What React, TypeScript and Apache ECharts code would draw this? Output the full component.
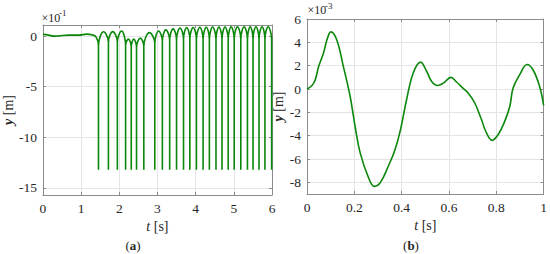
import React, { useEffect, useRef } from "react";
import * as echarts from "echarts";

// ---------- data (left: y in units of 1e-1 m, right: y in units of 1e-3 m) ----------
const leftYTicks = [-15, -10, -5, 0];
const rightYTicks = [-8, -6, -4, -2, 0, 2, 4, 6];

const earlyT = [0, 0.15, 0.28, 0.42, 0.68, 0.94, 1.15, 1.28, 1.39];
const earlyY = [0.17, 0.1, 0.0, 0.03, 0.1, 0.1, 0.2, 0.13, -0.07];

const spikeT = [
  1.456, 1.716, 1.95, 2.166, 2.314, 2.452, 2.643, 2.93, 3.129, 3.32, 3.5, 3.683, 3.848,
  4.021, 4.195, 4.36, 4.533, 4.69, 4.853, 5.01, 5.183, 5.357, 5.503, 5.66, 5.815, 5.99,
];
const shoulderY = [
  -0.9, -0.6, -0.6, -0.9, -1.1, -1.1, -1.0, -0.7, -0.5, -0.4, -0.35, -0.3, -0.3,
  -0.3, -0.3, -0.3, -0.3, -0.3, -0.3, -0.3, -0.3, -0.3, -0.3, -0.3, -0.3, -0.3,
];
const peakT = [
  1.59, 1.83, 2.06, 2.24, 2.38, 2.55, 2.79, 3.03, 3.22, 3.41, 3.59, 3.765, 3.935,
  4.11, 4.28, 4.445, 4.61, 4.77, 4.93, 5.095, 5.27, 5.43, 5.58, 5.74, 5.9,
];
const peakY = [
  0.43, 0.45, 0.5, -0.3, -0.3, -0.2, 0.35, 0.5, 0.62, 0.72, 0.8, 0.85, 0.85,
  0.88, 0.88, 0.9, 0.9, 0.9, 0.92, 0.92, 0.92, 0.93, 0.93, 0.93, 0.93,
];
const FLOOR_Y = -13.2;

const rightT = [
  0, 0.021, 0.035, 0.049, 0.07, 0.084, 0.101, 0.126, 0.154, 0.182, 0.204, 0.225, 0.26,
  0.284, 0.309, 0.344, 0.372, 0.395, 0.421, 0.449, 0.48, 0.506, 0.527, 0.552, 0.576,
  0.608, 0.632, 0.66, 0.681, 0.709, 0.737, 0.755, 0.782, 0.808, 0.835, 0.857, 0.871,
  0.899, 0.93, 0.955, 0.983, 1.0,
];
const rightY = [
  0, 0.3, 0.8, 1.9, 3.1, 4.2, 4.9, 4.2, 1.9, -0.6, -3.3, -5.5, -7.6,
  -8.35, -8.05, -6.6, -5.2, -3.5, -0.9, 1.37, 2.3, 1.5, 0.65, 0.3, 0.5,
  1.0, 0.6, 0.05, -0.34, -1.2, -2.6, -3.6, -4.4, -3.9, -2.8, -1.5, 0.08,
  1.23, 2.1, 1.65, 0.22, -1.4,
];

// ---------- styles ----------
const FONT = "Liberation Serif";
const FS = 13.5;
const GREEN = "#0b870b";
const AXIS_COLOR = "#8c8c8c";
const GRID_COLOR = "#e4e4e4";
const TEXT_COLOR = "#262626";

function buildLeftData(): number[][] {
  const d: number[][] = earlyT.map((t, i) => [t, earlyY[i]]);
  spikeT.forEach((t, i) => {
    d.push([t, shoulderY[i]], [t, FLOOR_Y]);
    if (i < peakT.length) {
      d.push([t, shoulderY[i]], [peakT[i], peakY[i]]);
    }
  });
  return d;
}

const labelStyle = { color: TEXT_COLOR, fontFamily: FONT, fontSize: FS, margin: 6 };
const tickStyle = { show: true, inside: true, length: 3, lineStyle: { color: AXIS_COLOR } };

const baseAxis = (extra: any) => ({
  type: "value",
  axisLine: { show: true, onZero: false, lineStyle: { color: AXIS_COLOR, width: 1 } },
  axisTick: tickStyle,
  splitLine: { show: true, lineStyle: { color: GRID_COLOR, width: 1 } },
  axisLabel: labelStyle,
  ...extra,
});

const nameStyle = {
  color: TEXT_COLOR,
  fontFamily: FONT,
  fontSize: 14,
  rich: {
    i: { fontStyle: "italic", fontFamily: FONT, fontSize: 14, color: TEXT_COLOR },
    b: { fontStyle: "italic", fontWeight: "bold", fontFamily: FONT, fontSize: 14, color: TEXT_COLOR },
    n: { fontFamily: FONT, fontSize: 14, color: TEXT_COLOR },
  },
};

export default function App() {
  const ref = useRef<HTMLDivElement>(null);
  useEffect(() => {
    if (!ref.current) return;
    const chart = echarts.init(ref.current, undefined, { renderer: "svg" });
    const option: any = {
      animation: false,
      textStyle: { fontFamily: FONT },
      grid: [
        { left: 41, top: 25, width: 231, height: 170 },
        { left: 307, top: 19, width: 237, height: 175 },
      ],
      xAxis: [
        baseAxis({
          gridIndex: 0, position: "bottom", min: 0, max: 6, interval: 1,
          name: "{i|t} {n|[s]}", nameLocation: "middle", nameGap: 19, nameTextStyle: nameStyle,
        }),
        baseAxis({
          gridIndex: 1, position: "bottom", min: 0, max: 1, interval: 0.2,
          name: "{i|t} {n|[s]}", nameLocation: "middle", nameGap: 20, nameTextStyle: nameStyle,
        }),
        baseAxis({
          gridIndex: 0, position: "top", min: 0, max: 6, interval: 1,
          axisLabel: { show: false }, splitLine: { show: false },
        }),
        baseAxis({
          gridIndex: 1, position: "top", min: 0, max: 1, interval: 0.2,
          axisLabel: { show: false }, splitLine: { show: false },
        }),
      ],
      yAxis: [
        baseAxis({
          gridIndex: 0, position: "left", min: -15.7, max: 1.1,
          axisTick: { ...tickStyle, customValues: leftYTicks },
          axisLabel: { ...labelStyle, customValues: leftYTicks },
          name: "{b|y} {n|[m]}", nameLocation: "middle", nameGap: 27, nameTextStyle: nameStyle,
        }),
        baseAxis({
          gridIndex: 1, position: "left", min: -9, max: 6,
          axisTick: { ...tickStyle, customValues: rightYTicks },
          axisLabel: { ...labelStyle, customValues: rightYTicks },
          name: "{b|y} {n|[m]}", nameLocation: "middle", nameGap: 21, nameTextStyle: nameStyle,
        }),
        baseAxis({
          gridIndex: 0, position: "right", min: -15.7, max: 1.1,
          axisTick: { ...tickStyle, customValues: leftYTicks },
          axisLabel: { show: false, customValues: leftYTicks }, splitLine: { show: false },
        }),
        baseAxis({
          gridIndex: 1, position: "right", min: -9, max: 6,
          axisTick: { ...tickStyle, customValues: rightYTicks },
          axisLabel: { show: false, customValues: rightYTicks }, splitLine: { show: false },
        }),
      ],
      series: [
        {
          type: "line", xAxisIndex: 0, yAxisIndex: 0, data: buildLeftData(),
          smooth: 0.4, showSymbol: false, lineStyle: { color: GREEN, width: 1.6 },
        },
        {
          type: "line", xAxisIndex: 1, yAxisIndex: 1, data: rightT.map((t, i) => [t, rightY[i]]),
          smooth: 0.4, showSymbol: false, lineStyle: { color: GREEN, width: 1.6 },
        },
      ],
      graphic: [
        { type: "text", x: 41.5, y: 23.5, style: { text: "×10", fontFamily: FONT, fontSize: 12, fill: TEXT_COLOR, align: "left", verticalAlign: "bottom" } },
        { type: "text", x: 59, y: 17, style: { text: "-1", fontFamily: FONT, fontSize: 9, fill: TEXT_COLOR, align: "left", verticalAlign: "bottom" } },
        { type: "text", x: 307.5, y: 16, style: { text: "×10", fontFamily: FONT, fontSize: 12, fill: TEXT_COLOR, align: "left", verticalAlign: "bottom" } },
        { type: "text", x: 325, y: 10, style: { text: "-3", fontFamily: FONT, fontSize: 9, fill: TEXT_COLOR, align: "left", verticalAlign: "bottom" } },
        {
          type: "text", x: 133, y: 245,
          style: { text: "({b|a})", fontFamily: FONT, fontSize: 13, fill: TEXT_COLOR, align: "center", verticalAlign: "middle",
            rich: { b: { fontWeight: "bold", fontFamily: FONT, fontSize: 13, fill: TEXT_COLOR } } },
        },
        {
          type: "text", x: 411, y: 245,
          style: { text: "({b|b})", fontFamily: FONT, fontSize: 13, fill: TEXT_COLOR, align: "center", verticalAlign: "middle",
            rich: { b: { fontWeight: "bold", fontFamily: FONT, fontSize: 13, fill: TEXT_COLOR } } },
        },
      ],
    };
    chart.setOption(option);
    return () => chart.dispose();
  }, []);
  return (
    <div
      ref={ref}
      style={{ position: "absolute", left: 0, top: 0, width: 550, height: 254, background: "#fff" }}
    />
  );
}
